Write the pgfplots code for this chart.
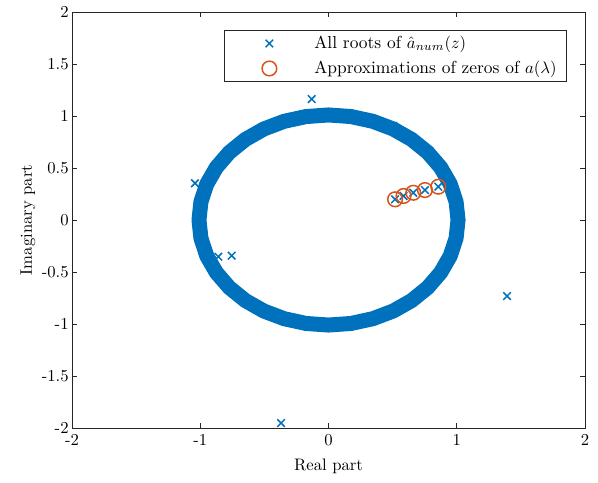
\documentclass[border=0pt]{standalone}
\usepackage{pgfplots}
\pgfplotsset{compat=1.18}
\definecolor{mblue}{rgb}{0,0.447,0.741}
\definecolor{morange}{rgb}{0.85,0.325,0.098}
\pgfplotsset{mylegimg/.style={legend image code/.code={\path[draw=none,fill=none] (0pt,-6.9pt) rectangle (48pt,6.9pt); \draw[##1] plot coordinates {(21pt,0pt)};}}}
\begin{document}
\begin{tikzpicture}
\begin{axis}[
  scale only axis,
  width=307.8pt, height=249.6pt,
  xmin=-2, xmax=2, ymin=-2, ymax=2,
  xtick={-2,-1,0,1,2},
  xticklabels={-2,-1,0,1,2},
  ytick={-2,-1.5,-1,-0.5,0,0.5,1,1.5,2},
  yticklabels={-2,-1.5,-1,-0.5,0,0.5,1,1.5,2},
  yticklabel style={xshift=1.5pt},
  tick align=inside,
  major tick length=3pt,
  axis line style={line width=0.5pt, black!85},
  every tick/.style={black!85, line width=0.5pt},
  xlabel={Real part},
  ylabel={Imaginary part},
  every axis x label/.style={at={(axis description cs:0.5,-0.0913)},anchor=center},
  every axis y label/.style={at={(axis description cs:-0.0858,0.5)},rotate=90,anchor=center},
  legend style={at={(0.965,0.957)}, anchor=north east, draw=black!85, line width=0.5pt,
    inner xsep=6pt, inner ysep=1pt, row sep=1.2pt, nodes={inner sep=0pt},
    font=\fontsize{10.45}{12.5}\selectfont},
  legend cell align=left,
  clip=true,
]
\coordinate (SW) at (rel axis cs:0,0);
\coordinate (NE) at (rel axis cs:1,1);
% a root lying just at the edge of the ring (mostly hidden by it)
\addplot[only marks, mark=x, mark size=3.2pt, mblue, line width=0.9pt, forget plot] coordinates {
(0.505,0.905)
};
% ring formed by the many roots near the unit circle
\addplot[mblue, line width=9pt, line join=round, forget plot] coordinates {
(1.01,0) (0.9947,0.1754) (0.9491,0.3454) (0.8747,0.505) (0.7737,0.6492) (0.6492,0.7737)
(0.505,0.8747) (0.3454,0.9491) (0.1754,0.9947) (0,1.01) (-0.1754,0.9947) (-0.3454,0.9491)
(-0.505,0.8747) (-0.6492,0.7737) (-0.7737,0.6492) (-0.8747,0.505) (-0.9491,0.3454) (-0.9947,0.1754)
(-1.01,0) (-0.9947,-0.1754) (-0.9491,-0.3454) (-0.8747,-0.505) (-0.7737,-0.6492) (-0.6492,-0.7737)
(-0.505,-0.8747) (-0.3454,-0.9491) (-0.1754,-0.9947) (0,-1.01) (0.1754,-0.9947) (0.3454,-0.9491)
(0.505,-0.8747) (0.6492,-0.7737) (0.7737,-0.6492) (0.8747,-0.505) (0.9491,-0.3454) (0.9947,-0.1754)
(1.01,0) (0.9947,0.1754)
};
\addplot[only marks, mark=x, mark size=3.2pt, mblue, line width=0.9pt, mylegimg] coordinates {
(-0.131,1.163) (-1.041,0.353) (-0.859,-0.353) (-0.755,-0.343) (1.392,-0.731) (-0.370,-1.952)
(0.519,0.199) (0.585,0.231) (0.661,0.262) (0.752,0.288) (0.856,0.320)
};
\addlegendentry{All roots of $\hat{a}_{num}(z)$}
\addplot[only marks, mark=o, mark size=4.4pt, morange, line width=0.9pt, mylegimg] coordinates {
(0.519,0.199) (0.585,0.231) (0.661,0.262) (0.752,0.288) (0.856,0.320)
};
\addlegendentry{Approximations of zeros of $a(\lambda)$}
\end{axis}
\pgfresetboundingbox
\path ([shift={(-43.2pt,-32.4pt)}]SW) rectangle ([shift={(7.8pt,7.2pt)}]NE);
\end{tikzpicture}
\end{document}
